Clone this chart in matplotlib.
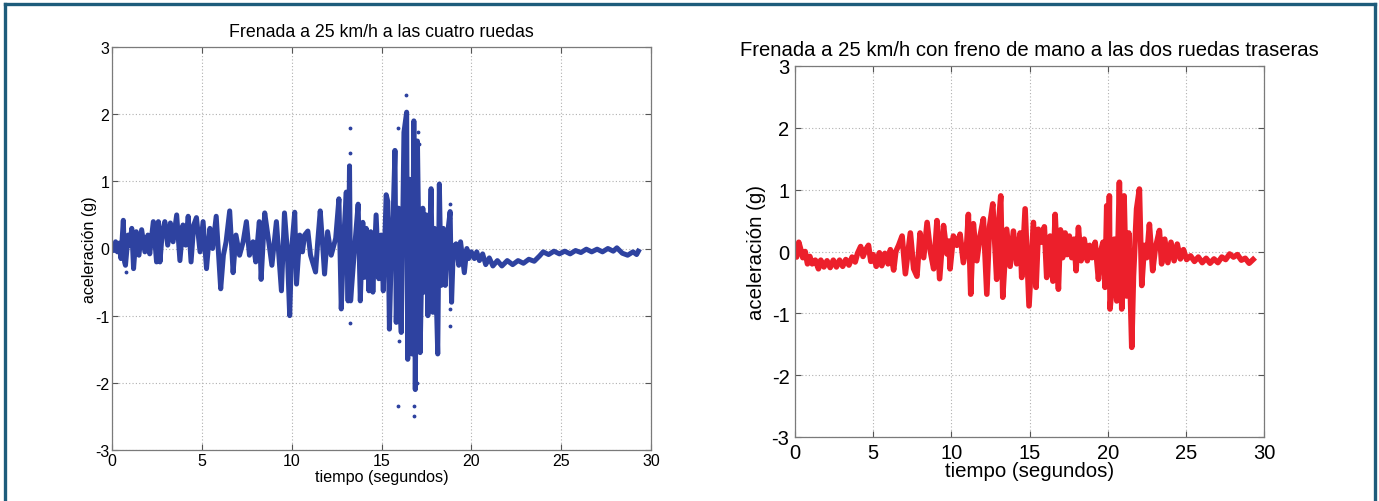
import matplotlib
matplotlib.use("Agg")
import matplotlib.pyplot as plt
from matplotlib.lines import Line2D

plt.rcParams['font.family'] = ['Liberation Sans', 'DejaVu Sans']
plt.rcParams['axes.unicode_minus'] = False

# ---------------- data ----------------
left_title = "Frenada a 25 km/h a las cuatro ruedas"
right_title = "Frenada a 25 km/h con freno de mano a las dos ruedas traseras"
x_label = "tiempo (segundos)"
y_label = "aceleración (g)"
x_ticks = [0, 5, 10, 15, 20, 25, 30]
y_ticks = [-3, -2, -1, 0, 1, 2, 3]

t_left = [0.00, 0.10, 0.20, 0.30, 0.40, 0.50, 0.63, 0.70, 0.75, 0.90, 1.00, 1.10, 1.20, 1.35,
          1.50, 1.65, 1.83, 2.00, 2.10, 2.30, 2.48, 2.58, 2.67, 2.80, 2.94, 3.10, 3.25, 3.40,
          3.60, 3.78, 3.95, 4.10, 4.24, 4.40, 4.55, 4.70, 4.90, 5.07, 5.26, 5.45, 5.60, 5.80,
          6.05, 6.20, 6.35, 6.55, 6.74, 6.90, 7.10, 7.30, 7.48, 7.65, 7.85, 8.00, 8.20, 8.30,
          8.50, 8.70, 8.90, 9.15, 9.43, 9.60, 9.75, 9.89, 10.00, 10.17, 10.27, 10.45, 10.60,
          10.72, 10.90, 11.05, 11.33, 11.45, 11.59, 11.75, 11.83, 12.00, 12.20, 12.45, 12.63,
          12.76, 12.90, 13.04, 13.14, 13.22, 13.28, 13.50, 13.70, 13.82, 13.96, 14.05, 14.15,
          14.30, 14.40, 14.52, 14.70, 14.85, 14.98, 15.10, 15.26, 15.35, 15.44, 15.55, 15.65,
          15.75, 15.82, 15.95, 16.05, 16.10, 16.25, 16.40, 16.46, 16.56, 16.70, 16.80, 16.88,
          17.00, 17.08, 17.15, 17.30, 17.40, 17.50, 17.58, 17.76, 17.86, 17.95, 18.13, 18.22,
          18.32, 18.44, 18.55, 18.70, 18.82, 18.90, 19.00, 19.15, 19.30, 19.40, 19.61, 19.75,
          19.85, 20.00, 20.17, 20.30, 20.45, 20.63, 20.80, 21.00, 21.20, 21.45, 21.70, 22.00,
          22.30, 22.60, 22.90, 23.20, 23.50, 23.80, 24.00, 24.30, 24.60, 24.90, 25.20, 25.50,
          25.80, 26.10, 26.40, 26.70, 27.00, 27.30, 27.60, 27.90, 28.10, 28.40, 28.70, 29.00,
          29.20, 29.30]
a_left = [0.05, -0.03, 0.10, -0.05, 0.08, -0.15, 0.42, -0.20, -0.25, 0.20, 0.05, 0.30, -0.30, 0.25,
          -0.10, 0.28, -0.05, 0.20, -0.08, 0.40, -0.20, 0.40, -0.20, 0.25, 0.40, 0.05, 0.38, 0.10,
          0.50, -0.18, 0.35, 0.05, 0.48, -0.20, 0.35, 0.46, -0.05, 0.40, -0.30, 0.30, 0.00, 0.48,
          -0.60, -0.10, 0.10, 0.56, -0.36, 0.20, -0.10, 0.10, 0.40, -0.10, 0.10, -0.20, 0.40, -0.46,
          0.53, 0.15, -0.25, 0.40, -0.63, 0.53, 0.00, -1.00, 0.00, 0.54, -0.53, 0.20, -0.05,
          0.20, 0.26, -0.10, -0.35, 0.10, 0.56, -0.05, -0.38, 0.25, -0.10, 0.15, 0.74,
          -0.90, 0.15, 0.84, -0.78, 1.23, -0.78, 0.00, 0.66, -0.78, 0.39, -0.43, 0.30,
          -0.63, 0.25, -0.65, 0.50, -0.45, 0.20, -0.63, 0.80, 0.70, -1.20, 0.00, 0.50,
          1.46, -1.10, 0.60, -0.95, -1.25, 1.73, 2.03, -1.65, 1.03, -1.57, 1.90, -2.10,
          1.60, 0.00, -1.55, 0.60, -0.65, 0.50, -1.00, 0.89, -0.95, 0.30, -1.57, 0.96,
          -0.55, 0.30, -0.55, 0.27, 0.55, -0.80, 0.02, 0.07, -0.25, 0.10, -0.36, 0.00,
          -0.15, -0.05, -0.15, -0.05, -0.18, -0.08, -0.24, -0.14, -0.26, -0.18, -0.26, -0.18,
          -0.24, -0.18, -0.22, -0.16, -0.19, -0.11, -0.05, -0.09, -0.04, -0.08, -0.04, -0.08,
          -0.03, -0.06, -0.01, -0.05, -0.01, -0.05, 0.00, -0.04, 0.01, -0.07, -0.10, -0.05,
          -0.09, -0.04]

t_left_dots = [0.78, 13.22, 13.22, 13.22, 15.72, 15.90, 15.90, 15.95, 15.95, 16.37, 16.83, 16.83,
               16.95, 17.02, 17.10, 18.82, 18.82, 18.82, 18.82]
a_left_dots = [-0.35, 1.80, 1.42, -1.11, 1.46, 1.80, -2.34, -1.37, -1.10, 2.28, -2.50, -2.34,
               -2.00, 1.73, 1.55, 0.66, 0.45, -0.90, -1.15]

t_right = [0.00, 0.10, 0.24, 0.35, 0.50, 0.65, 0.80, 0.95, 1.10, 1.30, 1.50, 1.65, 1.85, 2.05,
           2.25, 2.45, 2.65, 2.85, 3.05, 3.25, 3.45, 3.65, 3.85, 4.00, 4.20, 4.35, 4.55, 4.70,
           4.85, 5.00, 5.20, 5.40, 5.55, 5.75, 5.95, 6.10, 6.31, 6.45, 6.63, 6.85, 7.06, 7.38,
           7.59, 7.80, 8.00, 8.23, 8.45, 8.66, 8.87, 9.08, 9.25, 9.50, 9.72, 9.85, 9.92, 10.13,
           10.35, 10.56, 10.77, 10.99, 11.09, 11.24, 11.41, 11.63, 11.84, 12.05, 12.27, 12.44,
           12.65, 12.90, 13.01, 13.16, 13.29, 13.54, 13.76, 13.97, 14.18, 14.40, 14.50, 14.72,
           14.97, 15.25, 15.42, 15.57, 15.78, 15.95, 16.10, 16.32, 16.50, 16.64, 16.85, 16.98,
           17.12, 17.28, 17.40, 17.55, 17.70, 17.85, 17.98, 18.13, 18.30, 18.50, 18.70, 18.85,
           19.00, 19.20, 19.41, 19.55, 19.70, 19.83, 19.94, 20.05, 20.11, 20.15, 20.30, 20.42,
           20.58, 20.75, 20.90, 21.05, 21.20, 21.35, 21.54, 21.65, 21.85, 22.03, 22.18, 22.35,
           22.50, 22.67, 22.88, 23.05, 23.31, 23.45, 23.65, 23.85, 24.05, 24.25, 24.45, 24.65,
           24.85, 25.05, 25.30, 25.55, 25.80, 26.05, 26.30, 26.55, 26.80, 27.05, 27.30, 27.55,
           27.80, 28.05, 28.30, 28.55, 28.80, 29.05, 29.30]
a_right = [0.00, -0.09, 0.15, 0.05, -0.10, 0.00, -0.20, -0.08, -0.20, -0.14, -0.28, -0.14, -0.25, -0.15,
           -0.26, -0.14, -0.25, -0.14, -0.24, -0.13, -0.22, -0.09, -0.17, -0.03, 0.08, -0.08, 0.04, 0.10,
           -0.16, -0.05, -0.24, -0.02, -0.23, -0.03, -0.20, 0.03, -0.30, 0.00, 0.10, 0.25, -0.36, 0.30,
           -0.28, -0.40, 0.30, -0.10, 0.47, 0.00, -0.28, 0.50, -0.44, 0.42, -0.04, 0.17, -0.28, 0.25,
           0.10, 0.28, -0.18, 0.15, 0.60, -0.69, 0.45, -0.15, 0.25, 0.53, -0.69, 0.40,
           0.77, -0.45, 0.40, 0.90, -0.74, 0.36, -0.24, 0.33, -0.20, 0.30, -0.42, 0.69,
           -0.88, 0.47, -0.58, 0.36, 0.15, 0.40, -0.42, 0.25, -0.48, 0.60, -0.61, 0.35,
           -0.10, 0.30, -0.05, 0.25, -0.10, 0.20, -0.31, 0.39, -0.15, 0.20, -0.15, 0.10,
           -0.10, 0.15, -0.45, 0.00, 0.15, -0.58, 0.74, -0.20, 0.90, -0.93, -0.50, 0.20,
           -0.80, 1.12, -0.93, 0.90, -0.72, 0.30, -1.55, -0.40, 0.69, 1.01, -0.55, 0.10,
           -0.10, 0.44, -0.31, 0.05, 0.34, -0.20, 0.20, -0.18, 0.15, -0.15, 0.12, -0.12,
           0.03, -0.13, -0.07, -0.16, -0.09, -0.18, -0.11, -0.19, -0.12, -0.18, -0.09, -0.13,
           -0.04, -0.09, -0.05, -0.14, -0.11, -0.19, -0.13]

# ---------------- styling ----------------
W, H = 1379, 502
fig = plt.figure(figsize=(W / 100, H / 100), dpi=100)
fig.patch.set_facecolor('white')

blue = '#2e42a0'
red = '#ec1f2b'
frame_col = '#7a7a7a'
grid_col = '#b0b0b0'


def px_axes(x0, y0, x1, y1):
    return fig.add_axes([x0 / W, 1 - y1 / H, (x1 - x0) / W, (y1 - y0) / H])


def style(ax, fs, pad):
    ax.set_xlim(0, 30)
    ax.set_ylim(-3, 3)
    ax.set_xticks(x_ticks)
    ax.set_yticks(y_ticks)
    ax.set_xticklabels([str(v) for v in x_ticks])
    ax.set_yticklabels([str(v) for v in y_ticks])
    ax.grid(True, color=grid_col, linestyle=(0, (1, 2)), linewidth=0.8)
    ax.set_axisbelow(True)
    for s in ax.spines.values():
        s.set_color(frame_col)
        s.set_linewidth(0.9)
    ax.tick_params(direction='in', length=4, width=0.8, color='#555555',
                   top=True, right=True, labelsize=fs, pad=pad)


# left chart
axL = px_axes(112, 48, 651, 451)
style(axL, 11.5, 2)
axL.plot(t_left, a_left, color=blue, linewidth=3.6, solid_joinstyle='round')
axL.plot(t_left_dots, a_left_dots, linestyle='none', marker='.', markersize=3.5, color=blue)
axL.set_title(left_title, fontsize=12.8, pad=8)
axL.set_xlabel(x_label, fontsize=11.6)
axL.set_ylabel(y_label, fontsize=11.6)
axL.xaxis.set_label_coords(0.5, -0.046)
axL.yaxis.set_label_coords(-0.028, 0.5)

# right chart
axR = px_axes(795, 67, 1264, 438)
style(axR, 14.5, 4)
axR.plot(t_right, a_right, color=red, linewidth=4.0, solid_joinstyle='round')
axR.set_title(right_title, fontsize=14.6, pad=8)
axR.set_xlabel(x_label, fontsize=14.7)
axR.set_ylabel(y_label, fontsize=14.7)
axR.xaxis.set_label_coords(0.5, -0.064)
axR.yaxis.set_label_coords(-0.062, 0.5)

# teal frame (bottom edge cut off)
teal = '#1d5c7b'
lw = 2.4
fig.add_artist(Line2D([5 / W, 5 / W], [0, 1 - 5 / H], color=teal, linewidth=lw, transform=fig.transFigure))
fig.add_artist(Line2D([5 / W, 1 - 4 / W], [1 - 5 / H, 1 - 5 / H], color=teal, linewidth=lw, transform=fig.transFigure))
fig.add_artist(Line2D([1 - 4 / W, 1 - 4 / W], [0, 1 - 5 / H], color=teal, linewidth=lw, transform=fig.transFigure))

fig.savefig('out.png', dpi=100)
